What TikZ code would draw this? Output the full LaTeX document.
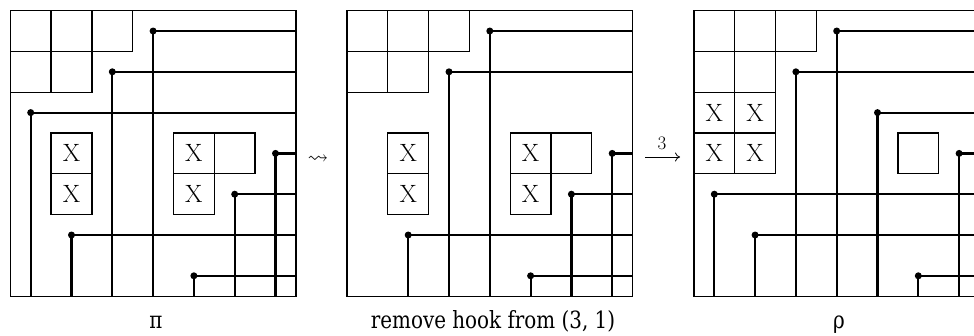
\documentclass[tikz,border=0pt]{standalone}
\usepackage{amsmath,amssymb}
\usepackage{fontspec}
\usetikzlibrary{arrows.meta}
\newfontfamily\lblfont[FakeStretch=0.84]{DejaVu Serif}

\tikzset{
  frame/.style={line width=1.3pt},
  cellbox/.style={line width=1.3pt},
  permline/.style={line width=2.2pt},
  dot/.style={circle, fill=black, inner sep=0pt, minimum size=7pt},
  xmark/.style={font=\fontsize{25}{29}\selectfont, inner sep=0pt},
  lbl/.style={font=\lblfont\fontsize{23.7}{28}\selectfont, anchor=base, inner sep=0pt},
  glyph/.style={font=\fontsize{20.74}{24}\selectfont, anchor=base, inner sep=0pt},
  steparrow/.style={line width=0.8pt, -{To[length=5pt,width=9pt]}},
}

\begin{document}
\begin{tikzpicture}[x=1pt, y=-1pt]
\useasboundingbox (0,0) rectangle (974,335);
\clip (0,0) rectangle (974,335);

% pi = 4 3 1 7 6 2 5
\begin{scope}[shift={(10.3,10.6)}, x=40.8pt, y=-40.8pt]
  \draw[frame] (0,0) rectangle (7,7);
  \foreach \r/\c in {1/1,1/2,1/3,2/1,2/2,4/6}
    \draw[cellbox] (\c-1,\r-1) rectangle (\c,\r);
  \foreach \r/\c in {4/2,5/2,4/5,5/5}{
    \draw[cellbox] (\c-1,\r-1) rectangle (\c,\r);
    \node[xmark] (ax\r\c) at (\c-0.5,\r-0.5) {X};
  }
  \foreach \r/\c in {1/4,2/3,3/1,4/7,5/6,6/2,7/5}{
    \node[dot] (a\r) at (\c-0.5,\r-0.5) {};
    \draw[permline] (7,\r-0.5) -- (a\r.center) -- (\c-0.5,7);
  }
\end{scope}

% the same diagram with the hook of (3,1) removed
\begin{scope}[shift={(347,10.6)}, x=40.8pt, y=-40.8pt]
  \draw[frame] (0,0) rectangle (7,7);
  \foreach \r/\c in {1/1,1/2,1/3,2/1,2/2,4/6}
    \draw[cellbox] (\c-1,\r-1) rectangle (\c,\r);
  \foreach \r/\c in {4/2,5/2,4/5,5/5}{
    \draw[cellbox] (\c-1,\r-1) rectangle (\c,\r);
    \node[xmark] (bx\r\c) at (\c-0.5,\r-0.5) {X};
  }
  \foreach \r/\c in {1/4,2/3,4/7,5/6,6/2,7/5}{
    \node[dot] (b\r) at (\c-0.5,\r-0.5) {};
    \draw[permline] (7,\r-0.5) -- (b\r.center) -- (\c-0.5,7);
  }
\end{scope}

% rho = 4 3 5 7 1 2 6
\begin{scope}[shift={(693.9,10.6)}, x=40.8pt, y=-40.8pt]
  \draw[frame] (0,0) rectangle (7,7);
  \foreach \r/\c in {1/1,1/2,1/3,2/1,2/2,4/6}
    \draw[cellbox] (\c-1,\r-1) rectangle (\c,\r);
  \foreach \r/\c in {3/1,3/2,4/1,4/2}{
    \draw[cellbox] (\c-1,\r-1) rectangle (\c,\r);
    \node[xmark] (cx\r\c) at (\c-0.5,\r-0.5) {X};
  }
  \foreach \r/\c in {1/4,2/3,3/5,4/7,5/1,6/2,7/6}{
    \node[dot] (c\r) at (\c-0.5,\r-0.5) {};
    \draw[permline] (7,\r-0.5) -- (c\r.center) -- (\c-0.5,7);
  }
\end{scope}

% arrows between the diagrams
\node[glyph] (sq) at (318,163) {$\leadsto$};
\coordinate (xrs) at (645,157);
\coordinate (xre) at (680,157);
\draw[steparrow] (xrs) -- (xre);
\node[font=\fontsize{19}{22}\selectfont, inner sep=0pt] (xrlbl) at (662,143) {3};

% captions
\node[lbl] (lpi) at (156,328) {π};
\node[lbl] (lhook) at (493,328) {remove hook from (3, 1)};
\node[lbl] (lrho) at (839,328) {ρ};
\end{tikzpicture}
\end{document}
